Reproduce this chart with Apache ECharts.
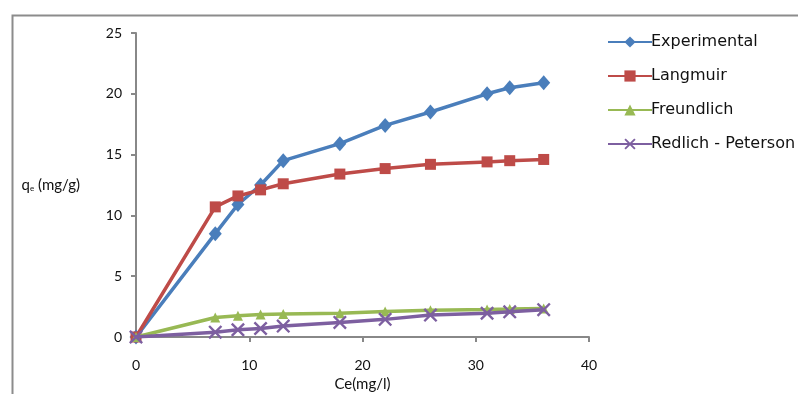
<!DOCTYPE html>
<html>
<head>
<meta charset="utf-8">
<script src="https://cdn.jsdelivr.net/npm/echarts@6/dist/echarts.min.js"></script>
<style>html,body{margin:0;padding:0;background:#fff}#c{width:798px;height:394px}</style>
</head>
<body>
<div id="c"></div>
<script>
const ce = [0, 7, 9, 11, 13, 18, 22, 26, 31, 33, 36];
const experimental = [0, 8.5, 10.9, 12.5, 14.5, 15.9, 17.4, 18.5, 20.0, 20.5, 20.9];
const langmuir = [0, 10.7, 11.6, 12.1, 12.6, 13.4, 13.85, 14.2, 14.4, 14.5, 14.6];
const freundlich = [0, 1.6, 1.75, 1.85, 1.9, 1.95, 2.1, 2.2, 2.27, 2.3, 2.35];
const redlich = [0, 0.4, 0.6, 0.7, 0.9, 1.2, 1.45, 1.8, 1.95, 2.07, 2.25];
const seriesNames = ['Experimental', 'Langmuir', 'Freundlich', 'Redlich - Peterson'];
const xTicks = [0, 10, 20, 30, 40];
const yTicks = [0, 5, 10, 15, 20, 25];

const colors = ['#4A7EBB', '#BE4B48', '#98B954', '#7D5FA0'];
const xSym = 'path://M0,1.2L1.2,0L5,3.8L8.8,0L10,1.2L6.2,5L10,8.8L8.8,10L5,6.2L1.2,10L0,8.8L3.8,5Z';
const symbols = ['diamond', 'rect', 'triangle', xSym];
const symSizes = [[13, 15], 11, 10, 14];
const allData = [experimental, langmuir, freundlich, redlich];

const font = 'Lato, "Open Sans", sans-serif';
const chart = echarts.init(document.getElementById('c'), null, {renderer: 'canvas'});
chart.setOption({
  animation: false,
  backgroundColor: '#fff',
  graphic: [{
    type: 'rect', left: 10, top: 13,
    shape: {width: 820, height: 420},
    style: {fill: 'none', stroke: '#8c8c8c', lineWidth: 2},
    z: -1
  }],
  grid: {left: 136, right: 209, top: 33, bottom: 57, outerBoundsMode: 'none', containLabel: false},
  legend: {
    orient: 'vertical', left: 607, top: 34, padding: 0,
    itemWidth: 44, itemHeight: 14, itemGap: 18,
    textStyle: {fontFamily: '"DejaVu Sans", sans-serif', fontSize: 16, color: '#111', padding: [0, 0, 0, -6]},
    data: seriesNames
  },
  xAxis: {
    type: 'value', min: 0, max: 40, interval: 10,
    name: 'Ce(mg/l)', nameLocation: 'middle', nameGap: 37,
    nameTextStyle: {fontFamily: font, fontSize: 15, color: '#111'},
    axisLine: {lineStyle: {color: '#888', width: 2}},
    axisTick: {show: true, length: 5, lineStyle: {color: '#888', width: 2}},
    axisLabel: {fontFamily: font, fontSize: 14, color: '#111', margin: 21,
      formatter: v => xTicks.includes(v) ? String(v) : ''},
    splitLine: {show: false}
  },
  yAxis: {
    type: 'value', min: 0, max: 25, interval: 5,
    name: '{q|q}{s|e}{q| (mg/g)}', nameLocation: 'middle', nameRotate: 0, nameGap: 56,
    nameTextStyle: {
      rich: {
        q: {fontFamily: font, fontSize: 15, color: '#111'},
        s: {fontFamily: font, fontSize: 8, color: '#111', verticalAlign: 'bottom', padding: [6, 0, 0, 0]}
      }
    },
    axisLine: {show: true, lineStyle: {color: '#888', width: 2}},
    axisTick: {show: true, length: 5, lineStyle: {color: '#888', width: 2}},
    axisLabel: {fontFamily: font, fontSize: 14, color: '#111', margin: 14,
      formatter: v => yTicks.includes(v) ? String(v) : ''},
    splitLine: {show: false}
  },
  series: seriesNames.map((n, i) => ({
    name: n,
    type: 'line',
    data: ce.map((x, j) => [x, allData[i][j]]),
    symbol: symbols[i],
    symbolSize: symSizes[i],
    showAllSymbol: true,
    lineStyle: {color: colors[i], width: 3.5},
    itemStyle: {color: colors[i]},
    z: 2 + i
  }))
});
</script>
</body>
</html>
